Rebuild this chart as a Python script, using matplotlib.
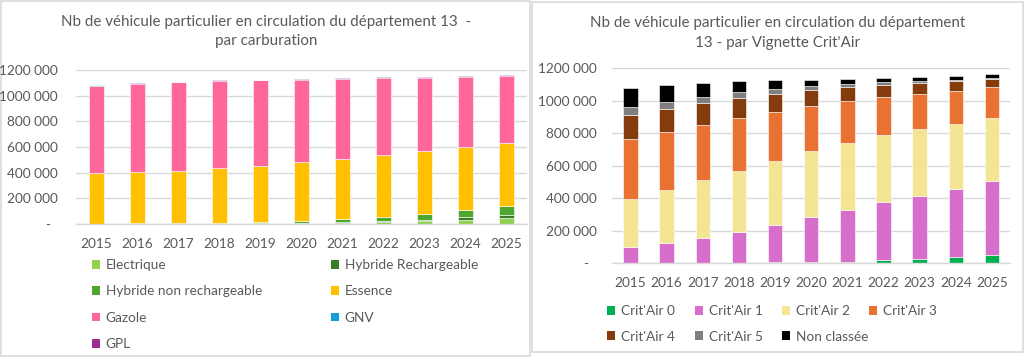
import matplotlib
matplotlib.use("Agg")
import matplotlib.pyplot as plt
from matplotlib.patches import Rectangle, Patch
from matplotlib.ticker import FuncFormatter
import numpy as np

plt.rcParams['font.family'] = ['Lato', 'DejaVu Sans']

years = [2015, 2016, 2017, 2018, 2019, 2020, 2021, 2022, 2023, 2024, 2025]

# Left chart: by fuel type
electrique = [1000, 1500, 2000, 3000, 4000, 6000, 9000, 14000, 22000, 33000, 47000]
hybride_rech = [200, 300, 500, 800, 1200, 2500, 5000, 8000, 13000, 18000, 23000]
hybride_non_rech = [2000, 3000, 4500, 6500, 12000, 16000, 22000, 35000, 45000, 56000, 67000]
essence = [394000, 400000, 408000, 426000, 437000, 456000, 470000, 481000, 489000, 490000, 494000]
gazole = [682000, 687000, 690000, 681000, 666000, 644000, 623000, 598000, 568000, 547000, 522000]
gnv = [200, 200, 300, 300, 300, 400, 400, 500, 500, 600, 700]
gpl = [4000, 4000, 4000, 4500, 4500, 5000, 5500, 6000, 7000, 8000, 9000]

fuel_labels = ["Electrique", "Hybride Rechargeable", "Hybride non rechargeable",
               "Essence", "Gazole", "GNV", "GPL"]
fuel_colors = ["#92D050", "#3B7D23", "#4EA72E", "#FFC000", "#FF6699", "#0F9ED5", "#A02B93"]

# Right chart: by Crit'Air sticker
critair0 = [1000, 1500, 2000, 3000, 4000, 6000, 8500, 17000, 26000, 36000, 47000]
critair1 = [97600, 123800, 154200, 190200, 230300, 277600, 320300, 357000, 387000, 420200, 456400]
critair2 = [295900, 326700, 353400, 376000, 394500, 406800, 413000, 413000, 411000, 400700, 388400]
critair3 = [367800, 355600, 341100, 326700, 304100, 279500, 258900, 238400, 219900, 205500, 191200]
critair4 = [148000, 143800, 135700, 123400, 111000, 98700, 84300, 74000, 63700, 57600, 49300]
critair5 = [49300, 41100, 37000, 32900, 28800, 22600, 16400, 14300, 14300, 8000, 9000]
non_classee = [121200, 102800, 84200, 69800, 53400, 36900, 30900, 26800, 22700, 22800, 20500]

crit_labels = ["Crit'Air 0", "Crit'Air 1", "Crit'Air 2", "Crit'Air 3",
               "Crit'Air 4", "Crit'Air 5", "Non classée"]
crit_colors = ["#00B050", "#D86ECC", "#F4E595", "#E97132", "#843C0C", "#7F7F7F", "#000000"]

TXT = "#595959"
GRID = "#D9D9D9"
W, H = 1024, 357

fig = plt.figure(figsize=(W / 100, H / 100), dpi=100)

def fx(px):
    return px / W

def fy(py):
    return 1 - py / H

# panel frames
fig.patches.append(Rectangle((fx(0.5), fy(356)), fx(529.5), (356 - 0.5) / H,
                             transform=fig.transFigure, facecolor="white",
                             edgecolor=GRID, lw=1.2, zorder=-2))
fig.patches.append(Rectangle((fx(532), fy(352)), fx(1023 - 532), (352 - 2) / H,
                             transform=fig.transFigure, facecolor="white",
                             edgecolor=GRID, lw=1.2, zorder=-1))

def fmt(v, pos):
    if v == 0:
        return "-  "
    if v >= 1000000:
        return f"{int(v // 1000)} {int(v % 1000):03d}"
    return f"{int(v):,}".replace(",", " ")

def style_axis(ax, ypad):
    ax.set_ylim(0, 1200000)
    ax.set_yticks(np.arange(0, 1200001, 200000))
    ax.yaxis.set_major_formatter(FuncFormatter(fmt))
    ax.grid(axis="y", color=GRID, lw=1)
    ax.set_axisbelow(True)
    for s in ["top", "right", "left"]:
        ax.spines[s].set_visible(False)
    ax.spines["bottom"].set_color(GRID)
    ax.spines["bottom"].set_linewidth(1)
    ax.tick_params(axis="both", length=0, colors=TXT, labelsize=9.8)
    ax.tick_params(axis="y", pad=ypad)
    ax.tick_params(axis="x", pad=10)
    ax.set_facecolor("none")

# Left axes
axL = fig.add_axes([fx(76), fy(224), fx(527 - 76), (224 - 70) / H])
x = np.arange(len(years))
bottom = np.zeros(len(years))
fuel_series = [electrique, hybride_rech, hybride_non_rech, essence, gazole, gnv, gpl]
fuel_handles = []
for vals, lab, col in zip(fuel_series, fuel_labels, fuel_colors):
    axL.bar(x, vals, bottom=bottom, width=0.39, color=col, edgecolor="white",
            linewidth=0.4, label=lab)
    bottom += np.array(vals)
    fuel_handles.append(Patch(facecolor=col, edgecolor="none", label=lab))
axL.set_xlim(-0.5, len(years) - 0.5)
axL.set_xticks(x)
axL.set_xticklabels([str(y) for y in years])
style_axis(axL, 13)

# Right axes
axR = fig.add_axes([fx(612.4), fy(263), fx(1010 - 612.4), (263 - 68.3) / H])
bottom = np.zeros(len(years))
crit_series = [critair0, critair1, critair2, critair3, critair4, critair5, non_classee]
crit_handles = []
for vals, lab, col in zip(crit_series, crit_labels, crit_colors):
    axR.bar(x, vals, bottom=bottom, width=0.40, color=col, edgecolor="white",
            linewidth=0.4, label=lab)
    bottom += np.array(vals)
    crit_handles.append(Patch(facecolor=col, edgecolor="none", label=lab))
axR.set_xlim(-0.5, len(years) - 0.5)
axR.set_xticks(x)
axR.set_xticklabels([str(y) for y in years])
style_axis(axR, 11.5)

# Titles
tkw = dict(ha="center", va="baseline", color=TXT, fontsize=10.9)
fig.text(fx(266), fy(26), "Nb de véhicule particulier en circulation du département 13  -", **tkw)
fig.text(fx(266), fy(45), "par carburation", **tkw)
fig.text(fx(777.5), fy(26.5), "Nb de véhicule particulier en circulation du département", **tkw)
fig.text(fx(777.5), fy(47), "13 - par Vignette Crit'Air", **tkw)

# Legends (one per column, Excel-like fixed positions)
def col_legend(handles, xpx, ytop_px, spacing):
    fig.legend(handles=handles, bbox_to_anchor=(fx(xpx), fy(ytop_px)),
               loc="upper left", frameon=False, fontsize=9.8, labelcolor=TXT,
               handlelength=0.6, handleheight=0.6, handletextpad=0.4,
               borderpad=0, borderaxespad=0, labelspacing=spacing)

col_legend([fuel_handles[0], fuel_handles[2], fuel_handles[4], fuel_handles[6]], 92, 259, 1.06)
col_legend([fuel_handles[1], fuel_handles[3], fuel_handles[5]], 331, 259, 1.06)

for i, xp in enumerate([607, 695, 782, 869]):
    hs = [crit_handles[i]]
    if i + 4 < len(crit_handles):
        hs.append(crit_handles[i + 4])
    col_legend(hs, xp, 305, 1.0)

fig.savefig("out.png", dpi=100)
